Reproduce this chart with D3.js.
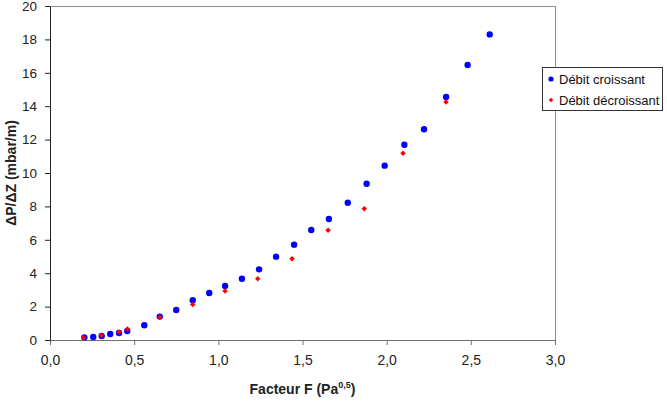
<!DOCTYPE html>
<html><head><meta charset="utf-8">
<script src="https://cdn.jsdelivr.net/npm/d3@7"></script>
<style>body{margin:0;background:#fff;}svg{display:block;font-family:"Liberation Sans",Arial,sans-serif;}</style>
</head><body><svg id="c" width="667" height="404"></svg>
<script>
// Débit croissant (blue circles)
const upX = [0.204,0.257,0.307,0.358,0.41,0.459,0.56,0.652,0.75,0.848,0.946,1.04,1.14,1.242,1.343,1.45,1.552,1.657,1.769,1.881,1.988,2.105,2.222,2.353,2.481,2.612];
const upY = [0.16,0.18,0.24,0.36,0.42,0.54,0.88,1.40,1.80,2.38,2.81,3.23,3.67,4.23,4.99,5.71,6.59,7.25,8.22,9.36,10.44,11.69,12.62,14.55,16.47,18.3];
// Débit décroissant (red diamonds)
const downX = [0.20,0.305,0.41,0.46,0.652,0.848,1.04,1.234,1.438,1.652,1.867,2.097,2.353];
const downY = [0.14,0.28,0.48,0.66,1.36,2.12,2.93,3.67,4.87,6.57,7.86,11.18,14.25];
const xTicks = [0,0.5,1,1.5,2,2.5,3];
const yTicks = [0,2,4,6,8,10,12,14,16,18,20];
const seriesNames = ["Débit croissant","Débit décroissant"];

const svg = d3.select("#c");
const L=50, R=555, T=6, B=340;
const x = d3.scaleLinear().domain([0,3]).range([L,R]);
const y = d3.scaleLinear().domain([0,20]).range([B,T]);
const fmt = d => d3.format(".1f")(d).replace(".", ",");

// frame (top/right)
svg.append("path").attr("d",`M${L},${T+0.5}H${R+0.5}V${B}`).attr("fill","none").attr("stroke","#8c8c8c").attr("stroke-width",1);

// x axis
const xa = svg.append("g").attr("transform",`translate(0,${B})`)
  .call(d3.axisBottom(x).tickValues(xTicks).tickFormat(fmt).tickSizeInner(5).tickSizeOuter(0).tickPadding(10));
xa.select(".domain").attr("stroke","#707070");
xa.selectAll(".tick line").attr("stroke","#707070");
xa.selectAll("text").attr("font-size",14).attr("fill","#222").attr("font-family","Liberation Sans, Arial, sans-serif");

// y axis
const ya = svg.append("g").attr("transform",`translate(${L},0)`)
  .call(d3.axisLeft(y).tickValues(yTicks).tickFormat(d3.format("d")).tickSizeInner(5).tickSizeOuter(0).tickPadding(8));
ya.select(".domain").attr("stroke","#222");
ya.selectAll(".tick line").attr("stroke","#222");
ya.selectAll("text").attr("font-size",13.5).attr("fill","#222").attr("font-family","Liberation Sans, Arial, sans-serif");

// axis titles
const xt = svg.append("text").attr("x",(L+R)/2).attr("y",394).attr("text-anchor","middle")
  .attr("font-size",14).attr("font-weight","bold").attr("fill","#222");
xt.append("tspan").text("Facteur F (Pa");
xt.append("tspan").attr("font-size",9).attr("dy",-6).text("0,5");
xt.append("tspan").attr("dy",6).text(")");

svg.append("text").attr("transform",`translate(16,${(T+B)/2}) rotate(-90)`).attr("text-anchor","middle")
  .attr("font-size",14).attr("font-weight","bold").attr("fill","#222").text("ΔP/ΔZ (mbar/m)");

// points
const up = upX.map((v,i)=>({x:v,y:upY[i]}));
const down = downX.map((v,i)=>({x:v,y:downY[i]}));
const diamond = d3.symbol().type(d3.symbolSquare).size(15);
svg.append("g").selectAll("circle").data(up).join("circle")
  .attr("cx",d=>x(d.x)).attr("cy",d=>y(d.y)).attr("r",3.2).attr("fill","#0000ff");
svg.append("g").selectAll("path").data(down).join("path")
  .attr("d",diamond).attr("transform",d=>`translate(${x(d.x)},${y(d.y)}) rotate(45)`).attr("fill","#ff0000");

// legend
const lg = svg.append("g");
lg.append("rect").attr("x",542.5).attr("y",67.5).attr("width",120).attr("height",43)
  .attr("fill","#fff").attr("stroke","#333").attr("stroke-width",1);
lg.append("circle").attr("cx",551).attr("cy",79).attr("r",2.6).attr("fill","#0000ff");
lg.append("path").attr("d",d3.symbol().type(d3.symbolSquare).size(10)).attr("transform","translate(551,100) rotate(45)").attr("fill","#ff0000");
lg.selectAll("text.l").data(seriesNames).join("text").attr("class","l")
  .attr("x",559).attr("y",(d,i)=>[79,100][i]).attr("dy","0.35em").attr("font-size",13).attr("fill","#111").text(d=>d);
</script></body></html>
